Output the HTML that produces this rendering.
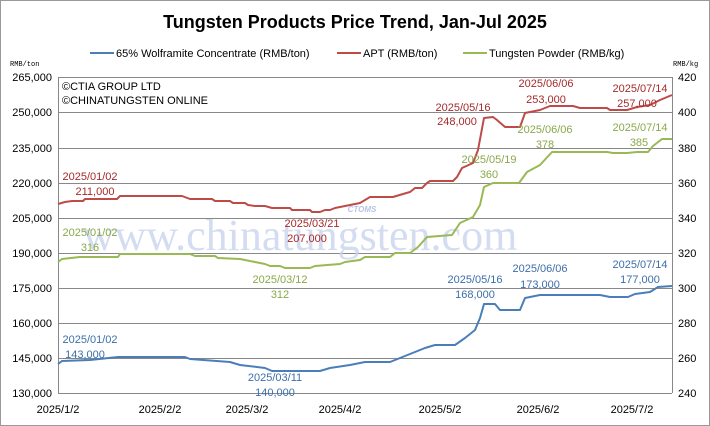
<!DOCTYPE html>
<html><head><meta charset="utf-8"><style>
body{margin:0;background:#fff}
svg{display:block;font-family:"Liberation Sans",sans-serif}
</style></head><body>
<svg width="710" height="426" viewBox="0 0 710 426" xmlns="http://www.w3.org/2000/svg">
<rect x="0.5" y="0.5" width="709" height="425" fill="#fff" stroke="#999"/>
<text x="355" y="28" text-anchor="middle" font-size="18" font-weight="bold">Tungsten Products Price Trend, Jan-Jul 2025</text>
<g font-size="11">
<line x1="90" y1="53" x2="114" y2="53" stroke="#4a7ebb" stroke-width="2"/><text x="116" y="57">65% Wolframite Concentrate (RMB/ton)</text>
<line x1="337" y1="53" x2="361" y2="53" stroke="#be4b48" stroke-width="2"/><text x="363" y="57">APT (RMB/ton)</text>
<line x1="463" y1="53" x2="487" y2="53" stroke="#98b954" stroke-width="2"/><text x="489" y="57">Tungsten Powder (RMB/kg)</text>
</g>
<text x="10" y="66" font-size="7" font-family="Liberation Mono,monospace">RMB/ton</text>
<text x="673" y="66" font-size="7" font-family="Liberation Mono,monospace">RMB/kg</text>
<g stroke="#888" stroke-width="1">
<line x1="58" y1="77.5" x2="672" y2="77.5"/><line x1="58" y1="112.5" x2="672" y2="112.5"/><line x1="58" y1="148.5" x2="672" y2="148.5"/><line x1="58" y1="183.5" x2="672" y2="183.5"/><line x1="58" y1="218.5" x2="672" y2="218.5"/><line x1="58" y1="253.5" x2="672" y2="253.5"/><line x1="58" y1="288.5" x2="672" y2="288.5"/><line x1="58" y1="323.5" x2="672" y2="323.5"/><line x1="58" y1="358.5" x2="672" y2="358.5"/><line x1="58" y1="393.5" x2="672" y2="393.5"/>
<line x1="58.5" y1="77" x2="58.5" y2="393"/><line x1="672.5" y1="77" x2="672.5" y2="393"/>
</g>
<g font-size="11" text-anchor="end">
<text x="52" y="81">265,000</text><text x="52" y="116">250,000</text><text x="52" y="152">235,000</text><text x="52" y="187">220,000</text><text x="52" y="222">205,000</text><text x="52" y="257">190,000</text><text x="52" y="292">175,000</text><text x="52" y="327">160,000</text><text x="52" y="362">145,000</text><text x="52" y="397">130,000</text>
</g>
<g font-size="11">
<text x="678" y="81">420</text><text x="678" y="116">400</text><text x="678" y="152">380</text><text x="678" y="187">360</text><text x="678" y="222">340</text><text x="678" y="257">320</text><text x="678" y="292">300</text><text x="678" y="327">280</text><text x="678" y="362">260</text><text x="678" y="397">240</text>
</g>
<g font-size="11" text-anchor="middle">
<text x="58" y="413">2025/1/2</text><text x="160" y="413">2025/2/2</text><text x="247" y="413">2025/3/2</text><text x="340" y="413">2025/4/2</text><text x="440" y="413">2025/5/2</text><text x="538" y="413">2025/6/2</text><text x="632" y="413">2025/7/2</text>
</g>
<text x="300" y="250" font-size="44" fill="#c9d4ee" text-anchor="middle" font-family="Liberation Serif,serif" opacity="0.8">www.chinatungsten.com</text>
<text x="362" y="212" font-size="8" fill="#b8c4e6" font-style="italic" font-weight="bold" text-anchor="middle">CTOMS</text>
<g font-size="11"><text x="62" y="90">©CTIA GROUP LTD</text><text x="62" y="104">©CHINATUNGSTEN ONLINE</text></g>
<g fill="none" stroke-width="2" stroke-linejoin="round">
<polyline stroke="#be4b48" points="58,204 65,202 72,201 83,201 85,199 117,199 120,196 182,196 190,199 212,199 215,201 230,201 233,203 245,203 248,205 255,206 265,206 272,208 290,208 292,210 310,210 312,212 320,212 325,210 330,210 335,208 345,206 350,205 360,203 370,197 393,197 403,194 410,192 415,188 422,188 427,183 430,181 453,181 457,177 462,168 473,163 478,150 484,118 493,117 497,120 505,127 520,127 525,113 540,110 550,106 573,106 580,108 607,108 610,110 627,110 637,107 650,105 660,100 672,95"/>
<polyline stroke="#98b954" points="58,262 62,259 80,257 118,257 120,254 190,254 195,256 215,256 218,258 240,259 255,262 265,264 270,266 280,266 285,268 310,268 315,266 340,264 345,262 360,260 365,257 390,257 395,253 410,253 418,247 427,237 452,235 460,223 473,217 480,205 484,187 493,183 519,183 527,172 540,165 552,152 607,152 613,153 627,153 637,152 648,152 653,146 662,139 672,139"/>
<polyline stroke="#4a7ebb" points="58,364 62,361 90,360 118,357 185,357 190,359 230,362 240,365 265,368 272,371 320,371 330,368 350,365 365,362 390,362 400,358 415,352 425,348 435,345 455,345 465,338 475,330 480,318 484,304 495,304 500,310 520,310 525,298 540,295 600,295 610,297 628,297 635,294 650,292 658,287 672,286"/>
</g>
<g font-size="11" fill="#a52a2a" text-anchor="middle">
<text x="90" y="180">2025/01/02</text><text x="95" y="195">211,000</text>
<text x="312" y="227">2025/03/21</text><text x="307" y="242">207,000</text>
<text x="463" y="111">2025/05/16</text><text x="457" y="125">248,000</text>
<text x="546" y="87">2025/06/06</text><text x="546" y="103">253,000</text>
<text x="640" y="92">2025/07/14</text><text x="637" y="107">257,000</text>
</g>
<g font-size="11" fill="#8aa84a" text-anchor="middle">
<text x="90" y="236">2025/01/02</text><text x="90" y="251">316</text>
<text x="280" y="283">2025/03/12</text><text x="280" y="298">312</text>
<text x="489" y="163">2025/05/19</text><text x="489" y="178">360</text>
<text x="545" y="133">2025/06/06</text><text x="545" y="148">378</text>
<text x="640" y="131">2025/07/14</text><text x="639" y="146">385</text>
</g>
<g font-size="11" fill="#3d6eaa" text-anchor="middle">
<text x="90" y="343">2025/01/02</text><text x="85" y="358">143,000</text>
<text x="275" y="381">2025/03/11</text><text x="275" y="396">140,000</text>
<text x="475" y="283">2025/05/16</text><text x="475" y="298">168,000</text>
<text x="540" y="272">2025/06/06</text><text x="540" y="288">173,000</text>
<text x="640" y="268">2025/07/14</text><text x="640" y="283">177,000</text>
</g>
</svg>
</body></html>
